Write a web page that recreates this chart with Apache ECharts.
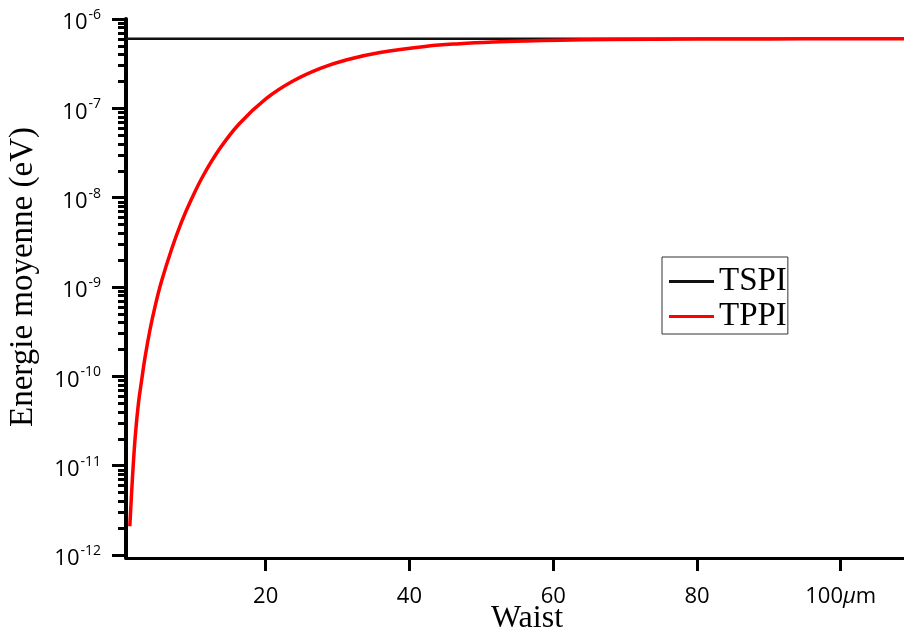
<!DOCTYPE html>
<html>
<head>
<meta charset="utf-8">
<script src="https://cdn.jsdelivr.net/npm/echarts@6/dist/echarts.min.js"></script>
<style>html,body{margin:0;padding:0;background:#fff;}#c{width:904px;height:639px;}</style>
</head>
<body>
<div id="c"></div>
<script>
// ---- data ----
const waist = [1.1, 1.45, 1.85, 2.3, 2.75, 3.2, 3.9, 4.6, 5.5, 6.9, 8.3, 9.7, 11.3, 13.6, 16.3, 20.1, 23.8, 27.6, 31.3, 35.9, 42.4, 47.0, 51.7, 56.3, 60.9, 67.9, 80, 90, 100, 108.8];
const tppi = [2.1e-12, 6.9e-12, 2.1e-11, 5.0e-11, 9.1e-11, 1.6e-10, 3.3e-10, 6.0e-10, 1.15e-9, 2.63e-9, 5.35e-9, 9.7e-9, 1.76e-8, 3.52e-8, 6.68e-8, 1.29e-7, 2.02e-7, 2.80e-7, 3.50e-7, 4.22e-7, 4.95e-7, 5.29e-7, 5.53e-7, 5.69e-7, 5.80e-7, 5.89e-7, 5.965e-7, 5.99e-7, 6.0e-7, 6.0e-7];
const tspiX = [0.57, 108.8];
const tspi = [6e-7, 6e-7];
const seriesNames = ['TSPI', 'TPPI'];
const xTicks = [20, 40, 60, 80, 100];
const xTickLabels = ['20', '40', '60', '80', '100'];
const yDecades = [1e-12, 1e-11, 1e-10, 1e-9, 1e-8, 1e-7, 1e-6];
const yExponents = ['-12', '-11', '-10', '-9', '-8', '-7', '-6'];
const minorMult = [2, 3, 4, 5, 6, 7, 8, 9];
const xTitle = 'Waist';
const yTitle = 'Energie moyenne (eV)';

const yMinor = [];
for (let i = 0; i < yDecades.length - 1; i++) {
  for (const m of minorMult) yMinor.push(m * yDecades[i]);
}

const chart = echarts.init(document.getElementById('c'), null, {renderer: 'canvas'});
const labelFont = 'Open Sans';
const serif = 'Liberation Serif';

chart.setOption({
  animation: false,
  backgroundColor: '#fff',
  grid: {left: 126, right: 0, top: 19, bottom: 81, containLabel: false},
  xAxis: {
    type: 'value', min: 0.57, max: 108.8,
    axisLine: {show: true, onZero: false, lineStyle: {color: '#000', width: 3}},
    axisTick: {show: true, inside: false, length: 13, customValues: xTicks, lineStyle: {color: '#000', width: 3}},
    axisLabel: {
      customValues: xTicks, margin: 28, color: '#000', fontFamily: labelFont, fontSize: 22,
      formatter: function (v) {
        const i = xTicks.indexOf(v);
        const t = i >= 0 ? xTickLabels[i] : String(v);
        return v === 100 ? t + '{mu|μ}m' : t;
      },
      rich: {mu: {fontFamily: labelFont, fontSize: 22, fontStyle: 'italic', color: '#000'}}
    },
    splitLine: {show: false}
  },
  yAxis: [{
    type: 'log', logBase: 10, min: 9.26e-13, max: 1e-6,
    axisLine: {show: true, lineStyle: {color: '#000', width: 4}},
    axisTick: {show: true, inside: false, length: 14, customValues: yDecades, lineStyle: {color: '#000', width: 3}},
    axisLabel: {
      customValues: yDecades, margin: 25, color: '#000', fontFamily: labelFont, fontSize: 22,
      formatter: function (v) {
        const i = yDecades.findIndex(d => Math.abs(Math.log10(d) - Math.log10(v)) < 1e-6);
        return '{b|10}{s|' + (i >= 0 ? yExponents[i] : '') + '}';
      },
      rich: {
        b: {fontFamily: labelFont, fontSize: 22, color: '#000', lineHeight: 22, padding: [8, 0, 0, 0]},
        s: {fontFamily: labelFont, fontSize: 14, color: '#000', verticalAlign: 'top', lineHeight: 14, padding: [0, 0, 0, 1]}
      }
    },
    splitLine: {show: false}
  }, {
    type: 'log', logBase: 10, min: 9.26e-13, max: 1e-6, position: 'left',
    axisLine: {show: false},
    axisTick: {show: true, inside: false, length: 8, customValues: yMinor, lineStyle: {color: '#000', width: 3}},
    axisLabel: {show: false},
    splitLine: {show: false}
  }],
  legend: {
    data: seriesNames,
    orient: 'vertical', left: 662, top: 257,
    backgroundColor: '#fff',
    borderColor: '#333', borderWidth: 1, borderRadius: 0,
    padding: [7, 1, 0, 7],
    itemGap: 0, itemWidth: 45, itemHeight: 14, itemTextGap: 5,
    icon: 'path://M0,0 L45,0 L45,3 L0,3 Z',
    textStyle: {fontFamily: serif, fontSize: 33, color: '#000', lineHeight: 26, padding: [0, 0, 9, 0]}
  },
  graphic: [
    {type: 'text', x: 527, y: 619, style: {text: xTitle, font: '32px "Liberation Serif"', fill: '#000', align: 'center', verticalAlign: 'middle'}},
    {type: 'text', x: 23.5, y: 277, rotation: Math.PI / 2, style: {text: yTitle, font: '33px "Liberation Serif"', fill: '#000', align: 'center', verticalAlign: 'middle'}}
  ],
  series: [{
    name: seriesNames[0], type: 'line', yAxisIndex: 0, showSymbol: false, symbol: 'none',
    data: tspiX.map((x, i) => [x, tspi[i]]),
    lineStyle: {color: '#111', width: 2.5}, itemStyle: {color: '#111'}
  }, {
    name: seriesNames[1], type: 'line', yAxisIndex: 0, showSymbol: false, symbol: 'none',
    smooth: 0.4,
    data: waist.map((x, i) => [x, tppi[i]]),
    lineStyle: {color: '#ff0000', width: 3.5}, itemStyle: {color: '#ff0000'}
  }]
});
</script>
</body>
</html>
